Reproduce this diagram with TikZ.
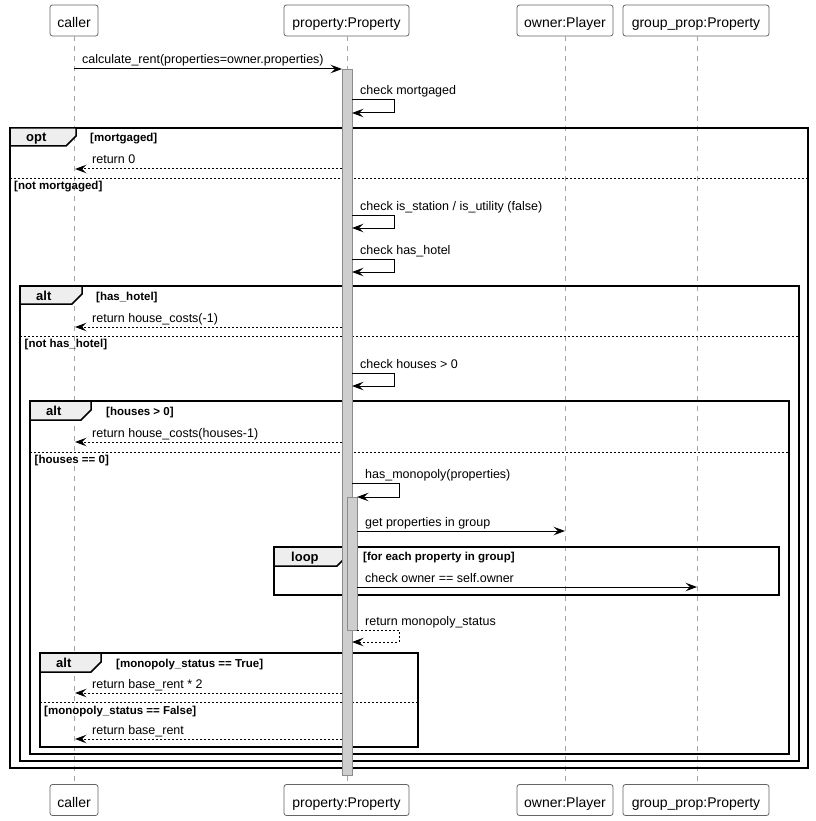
\documentclass[tikz,border=0pt]{standalone}
\usepackage{fontspec}
\setmainfont{Liberation Sans}
\usetikzlibrary{arrows.meta}
\definecolor{lifegray}{RGB}{165,165,165}
\definecolor{boxborder}{RGB}{100,100,100}
\definecolor{actfill}{RGB}{206,206,206}
\definecolor{actborder}{RGB}{140,140,140}
\definecolor{tabfill}{RGB}{238,238,238}
\tikzset{
  part/.style={draw=boxborder, fill=white, rounded corners=2.5pt, minimum height=31pt,
    inner sep=0pt, text height=14pt, text depth=0pt, line width=0.8pt, font=\fontsize{14}{16}\selectfont},
  life/.style={draw=lifegray, dash pattern=on 5pt off 5pt, line width=0.8pt},
  act/.style={draw=actborder, fill=actfill, line width=0.8pt},
  msg/.style={draw=black, line width=1pt, -{Stealth[length=11.5pt,width=8.5pt,inset=4.5pt]}},
  ret/.style={msg, dash pattern=on 2pt off 2pt},
  lbl/.style={font=\fontsize{12.5}{14}\selectfont, anchor=base west, inner sep=0pt},
  frm/.style={draw=black, line width=1.5pt},
  tabshape/.style={draw=black, line width=1.5pt, fill=tabfill, line join=miter},
  tablbl/.style={font=\bfseries\fontsize{13}{15}\selectfont, anchor=base west, inner sep=0pt},
  guard/.style={font=\bfseries\fontsize{11.5}{13}\selectfont, anchor=base west, inner sep=0pt},
  divider/.style={draw=black, line width=0.8pt, dash pattern=on 2pt off 2pt},
}
\begin{document}
\begin{tikzpicture}[x=1pt,y=-1pt]
\useasboundingbox (0,0) rectangle (815,821);

% participants
\node[part, minimum width=48pt]  (callerT) at (74,20.5)  {caller};
\node[part, minimum width=125pt] (propT)   at (346.5,20.5) {property:Property};
\node[part, minimum width=96pt]  (ownerT)  at (565,20.5) {owner:Player};
\node[part, minimum width=146pt] (groupT)  at (696,20.5) {group\_prop:Property};
\node[part, minimum width=48pt]  (callerB) at (74,800)  {caller};
\node[part, minimum width=125pt] (propB)   at (346.5,800) {property:Property};
\node[part, minimum width=96pt]  (ownerB)  at (565,800) {owner:Player};
\node[part, minimum width=146pt] (groupB)  at (696,800) {group\_prop:Property};

% lifelines
\draw[life] (callerT.south) -- (callerB.north);
\draw[life] ([xshift=0.5pt]propT.south) -- ([xshift=0.5pt]propB.north);
\draw[life] (ownerT.south) -- (ownerB.north);
\draw[life] ([xshift=1pt]groupT.south) -- ([xshift=1pt]groupB.north);

% activation bars
\draw[act] (342,69) rectangle (352,775);
\draw[act] (347,497) rectangle (357,630);

% opt frame
\draw[frm] (10,128) rectangle (808,768);
\draw[tabshape] (10,128) -- (76,128) -- (76,136) -- (66,146) -- (10,146) -- cycle;
\node[tablbl] (optT) at (26,142) {opt};
\node[guard] (optG) at (90,142) {[mortgaged]};
\draw[divider] (10,178) -- (808,178);
\node[guard] (optE) at (14,189.5) {[not mortgaged]};

% alt 1
\draw[frm] (20,286) rectangle (799,761);
\draw[tabshape] (20,286) -- (82,286) -- (82,294) -- (72,304) -- (20,304) -- cycle;
\node[tablbl] (alt1T) at (36,300) {alt};
\node[guard] (alt1G) at (96,300) {[has\_hotel]};
\draw[divider] (20,336) -- (799,336);
\node[guard] (alt1E) at (24.5,347.5) {[not has\_hotel]};

% alt 2
\draw[frm] (30,401) rectangle (789,754);
\draw[tabshape] (30,401) -- (91,401) -- (91,410) -- (81,420) -- (30,420) -- cycle;
\node[tablbl] (alt2T) at (46,415) {alt};
\node[guard] (alt2G) at (106,415) {[houses > 0]};
\draw[divider] (30,452) -- (789,452);
\node[guard] (alt2E) at (34.5,463.5) {[houses == 0]};

% loop
\draw[frm] (274,547) rectangle (779,595);
\draw[tabshape] (274,547) -- (347,547) -- (347,556) -- (337,566) -- (274,566) -- cycle;
\node[tablbl] (loopT) at (291,561) {loop};
\node[guard] (loopG) at (363,560.5) {[for each property in group]};

% alt 3
\draw[frm] (40,653) rectangle (418,747);
\draw[tabshape] (40,653) -- (101,653) -- (101,662) -- (91,672) -- (40,672) -- cycle;
\node[tablbl] (alt3T) at (56,667) {alt};
\node[guard] (alt3G) at (116,667) {[monopoly\_status == True]};
\draw[divider] (40,702) -- (418,702);
\node[guard] (alt3E) at (44,714) {[monopoly\_status == False]};

% redraw bars over frames
\draw[act] (342,69) rectangle (352,775);
\draw[act] (347,497) rectangle (357,630);

% messages
\coordinate (m1a) at (74,69);   \coordinate (m1b) at (342,69);
\draw[msg] (m1a) -- (m1b);
\node[lbl] (m1) at (82,64) {calculate\_rent(properties=owner.properties)};

\coordinate (s2a) at (352,100); \coordinate (s2b) at (352,113);
\draw[msg] (s2a) -- ++(42,0) |- (s2b);
\node[lbl] (m2) at (360,95) {check mortgaged};

\coordinate (r3a) at (342,169); \coordinate (r3b) at (75,169);
\draw[ret] (r3a) -- (r3b);
\node[lbl] (m3) at (92,164) {return 0};

\coordinate (s4a) at (352,215); \coordinate (s4b) at (352,228);
\draw[msg] (s4a) -- ++(42,0) |- (s4b);
\node[lbl] (m4) at (360,210) {check is\_station / is\_utility (false)};

\coordinate (s5a) at (352,259); \coordinate (s5b) at (352,272);
\draw[msg] (s5a) -- ++(42,0) |- (s5b);
\node[lbl] (m5) at (360,254) {check has\_hotel};

\coordinate (r6a) at (342,327); \coordinate (r6b) at (75,327);
\draw[ret] (r6a) -- (r6b);
\node[lbl] (m6) at (92,322) {return house\_costs(-1)};

\coordinate (s7a) at (352,373); \coordinate (s7b) at (352,386);
\draw[msg] (s7a) -- ++(42,0) |- (s7b);
\node[lbl] (m7) at (360,368) {check houses > 0};

\coordinate (r8a) at (342,442); \coordinate (r8b) at (75,442);
\draw[ret] (r8a) -- (r8b);
\node[lbl] (m8) at (92,437) {return house\_costs(houses-1)};

\coordinate (s9a) at (352,483); \coordinate (s9b) at (357,497);
\draw[msg] (s9a) -- ++(47,0) |- (s9b);
\node[lbl] (m9) at (365,478) {has\_monopoly(properties)};

\coordinate (m10a) at (357,531); \coordinate (m10b) at (565,531);
\draw[msg] (m10a) -- (m10b);
\node[lbl] (m10) at (365,526) {get properties in group};

\coordinate (m11a) at (357,587); \coordinate (m11b) at (697,587);
\draw[msg] (m11a) -- (m11b);
\node[lbl] (m11) at (365,582) {check owner == self.owner};

\coordinate (s12a) at (357,630); \coordinate (s12b) at (352,642);
\draw[ret] (s12a) -- ++(42,0) |- (s12b);
\node[lbl] (m12) at (365,625) {return monopoly\_status};

\coordinate (r13a) at (342,693); \coordinate (r13b) at (75,693);
\draw[ret] (r13a) -- (r13b);
\node[lbl] (m13) at (92,688) {return base\_rent * 2};

\coordinate (r14a) at (342,739); \coordinate (r14b) at (75,739);
\draw[ret] (r14a) -- (r14b);
\node[lbl] (m14) at (92,734) {return base\_rent};
\end{tikzpicture}
\end{document}
